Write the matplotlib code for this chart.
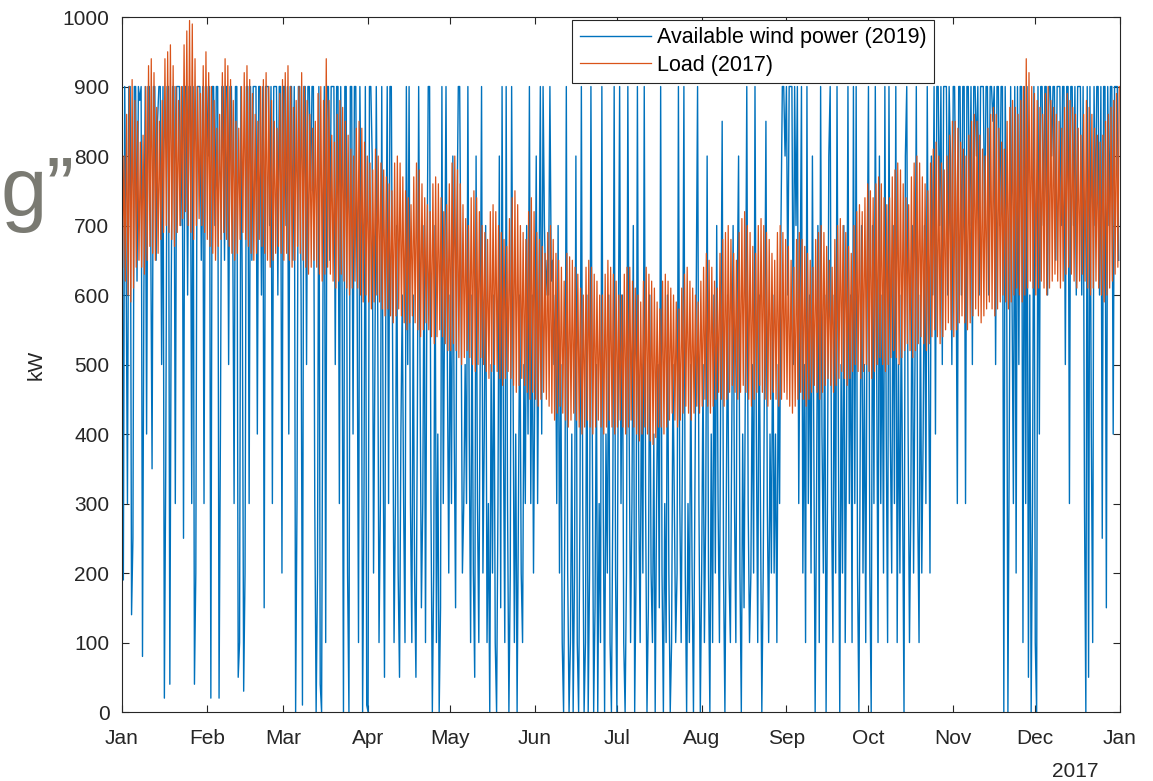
import matplotlib.pyplot as plt
import matplotlib as mpl
import matplotlib.dates as mdate
import numpy as np
import pandas as pd

mpl.rcParams['font.family'] = ['Liberation Sans', 'DejaVu Sans']
mpl.rcParams['font.size'] = 15

# daily peak load (kW), 2017, one row per month
load_peak = [
    800, 860, 900, 910, 880, 850, 820, 830, 900, 930, 940, 920, 870, 850, 880, 940, 950, 960, 930, 900, 880, 900, 960, 980, 995, 990, 940, 900, 890, 930, 950,
    920, 900, 880, 840, 860, 920, 940, 930, 910, 880, 850, 840, 900, 920, 930, 910, 890, 860, 850, 900, 910, 920, 900, 880, 850, 840, 890, 910,
    920, 930, 900, 870, 880, 900, 920, 900, 880, 860, 840, 850, 890, 900, 880, 940, 880, 830, 820, 860, 880, 870, 850, 830, 810, 800, 840, 850, 840, 820, 800,
    790, 780, 810, 800, 790, 780, 770, 760, 750, 790, 800, 790, 770, 750, 740, 730, 770, 790, 780, 760, 740, 730, 720, 760, 770, 760, 740, 720, 730, 760,
    790, 800, 780, 760, 730, 710, 700, 740, 750, 740, 720, 700, 690, 680, 720, 730, 720, 700, 690, 680, 670, 710, 740, 750, 730, 700, 690, 680, 720, 740, 720,
    690, 680, 670, 660, 690, 700, 680, 660, 650, 640, 620, 660, 655, 650, 640, 630, 610, 600, 640, 650, 640, 630, 620, 600, 600, 630, 650, 640, 630, 620,
    600, 600, 630, 640, 640, 620, 610, 600, 590, 620, 640, 630, 620, 610, 590, 580, 620, 630, 620, 610, 600, 590, 580, 610, 630, 640, 620, 610, 600, 590, 620,
    640, 660, 650, 640, 620, 610, 660, 680, 690, 700, 680, 660, 650, 690, 710, 720, 700, 690, 670, 660, 700, 710, 700, 690, 680, 660, 650, 690, 700, 690, 680,
    670, 650, 640, 680, 690, 680, 670, 660, 650, 640, 680, 690, 700, 690, 670, 650, 640, 680, 700, 710, 700, 690, 670, 660, 700, 720, 730, 720, 740, 760,
    750, 740, 760, 770, 760, 740, 730, 740, 770, 780, 790, 780, 760, 740, 730, 770, 790, 800, 790, 770, 760, 750, 790, 810, 820, 800, 790, 780, 800, 830, 850,
    850, 840, 820, 810, 800, 830, 850, 860, 850, 830, 810, 800, 840, 860, 870, 860, 840, 820, 810, 850, 870, 880, 870, 860, 880, 900, 940, 920, 900, 890,
    880, 870, 860, 890, 900, 880, 870, 860, 850, 840, 870, 890, 880, 870, 860, 840, 830, 860, 880, 870, 860, 840, 830, 820, 830, 850, 860, 870, 880, 890, 900,
]

# daily minimum load (kW)
load_base = [
    640, 620, 600, 590, 610, 640, 650, 640, 630, 650, 670, 660, 650, 660, 680, 690, 700, 690, 680, 670, 690, 700, 710, 720, 700, 690, 680, 700, 710, 700, 690,
    680, 670, 660, 650, 670, 680, 690, 680, 670, 660, 650, 660, 680, 690, 680, 670, 660, 650, 660, 680, 670, 660, 650, 640, 650, 660, 670, 660,
    650, 660, 650, 640, 650, 670, 660, 650, 640, 630, 640, 650, 640, 630, 620, 630, 640, 630, 620, 610, 620, 630, 620, 610, 600, 610, 620, 610, 600, 590, 600,
    590, 580, 590, 600, 590, 580, 570, 580, 570, 560, 570, 580, 570, 560, 550, 560, 570, 560, 550, 540, 550, 560, 550, 540, 530, 540, 550, 540, 530, 520,
    520, 530, 520, 510, 500, 510, 520, 510, 500, 490, 500, 510, 500, 490, 480, 490, 500, 490, 480, 470, 480, 490, 480, 470, 460, 470, 480, 470, 460, 450, 460,
    450, 440, 450, 460, 450, 440, 430, 420, 430, 440, 430, 420, 410, 420, 430, 420, 410, 400, 410, 420, 410, 400, 410, 420, 410, 400, 410, 420, 410, 400,
    410, 420, 410, 400, 410, 420, 410, 400, 390, 400, 410, 400, 390, 385, 395, 410, 410, 400, 410, 420, 430, 420, 410, 420, 430, 440, 430, 420, 430, 440, 430,
    440, 450, 440, 430, 440, 450, 460, 450, 440, 450, 460, 470, 460, 450, 460, 470, 460, 450, 440, 450, 460, 470, 460, 450, 440, 450, 460, 450, 440, 450, 460,
    450, 440, 430, 440, 450, 460, 450, 440, 450, 460, 470, 460, 450, 460, 470, 480, 470, 460, 470, 480, 490, 480, 470, 480, 490, 500, 490, 480, 490, 500,
    490, 480, 490, 500, 510, 500, 490, 500, 510, 520, 510, 500, 510, 520, 530, 520, 510, 520, 530, 540, 530, 520, 530, 540, 550, 540, 530, 540, 550, 560, 550,
    540, 550, 560, 570, 560, 550, 560, 570, 580, 570, 560, 570, 580, 590, 580, 570, 580, 590, 600, 590, 580, 590, 600, 610, 600, 590, 600, 610, 620, 610,
    600, 610, 620, 610, 600, 610, 620, 630, 620, 610, 620, 630, 640, 630, 620, 610, 620, 630, 620, 610, 600, 610, 620, 610, 600, 590, 600, 610, 620, 630, 640,
]

# available wind power (kW), two readings per day, one row per week from Jan 1
wind = [
    900, 190, 900, 650, 300, 900, 900, 140, 250, 900, 900, 620, 900, 880,
    900, 80, 600, 900, 400, 900, 900, 700, 350, 900, 900, 650, 850, 900,
    900, 500, 900, 20, 350, 900, 900, 40, 600, 900, 900, 300, 900, 900,
    900, 700, 900, 250, 900, 900, 600, 900, 900, 300, 900, 40, 200, 900,
    900, 900, 650, 900, 300, 900, 900, 800, 900, 20, 900, 900, 700, 900,
    900, 20, 400, 900, 900, 650, 900, 900, 500, 900, 900, 700, 300, 900,
    900, 50, 100, 900, 600, 30, 200, 900, 900, 300, 900, 650, 900, 900,
    900, 400, 900, 900, 600, 900, 150, 900, 900, 900, 700, 900, 300, 900,
    900, 900, 600, 900, 900, 200, 900, 900, 700, 900, 400, 900, 900, 650,
    900, 0, 300, 900, 900, 600, 10, 900, 900, 500, 900, 900, 750, 900,
    900, 300, 0, 200, 900, 40, 0, 600, 900, 100, 900, 900, 650, 900,
    900, 900, 500, 900, 900, 300, 900, 600, 0, 900, 900, 200, 0, 900,
    900, 400, 900, 900, 600, 100, 900, 700, 0, 300, 900, 10, 0, 900,
    900, 800, 200, 500, 900, 600, 100, 300, 900, 400, 50, 600, 900, 300,
    900, 900, 500, 100, 300, 700, 200, 50, 400, 600, 300, 100, 900, 500,
    900, 300, 100, 600, 200, 50, 400, 900, 500, 150, 300, 700, 100, 600,
    900, 900, 300, 0, 200, 700, 100, 400, 0, 150, 900, 300, 600, 900,
    500, 200, 600, 300, 800, 400, 150, 700, 900, 900, 600, 200, 300, 500,
    300, 900, 400, 100, 600, 200, 50, 800, 300, 100, 500, 900, 200, 400,
    700, 100, 300, 0, 500, 200, 600, 100, 0, 300, 800, 150, 900, 400,
    100, 900, 300, 0, 200, 900, 500, 100, 400, 0, 300, 600, 200, 100,
    500, 300, 700, 400, 900, 300, 600, 200, 500, 800, 300, 600, 900, 400,
    900, 700, 600, 650, 600, 900, 620, 650, 500, 600, 300, 700, 200, 500,
    100, 0, 300, 900, 200, 0, 100, 400, 0, 200, 800, 100, 0, 300,
    900, 300, 0, 100, 600, 0, 200, 900, 400, 0, 150, 500, 0, 300,
    100, 900, 300, 0, 400, 200, 600, 100, 0, 300, 900, 200, 0, 500,
    900, 300, 600, 100, 0, 200, 900, 400, 100, 300, 700, 0, 200, 900,
    300, 100, 500, 200, 900, 300, 0, 150, 600, 200, 100, 400, 0, 300,
    500, 150, 900, 200, 0, 300, 100, 600, 200, 0, 100, 500, 300, 100,
    200, 900, 300, 100, 400, 900, 200, 0, 300, 100, 500, 200, 0, 300,
    600, 900, 300, 0, 200, 500, 100, 300, 800, 200, 0, 400, 100, 600,
    200, 700, 300, 100, 500, 850, 200, 0, 300, 600, 200, 100, 400, 700,
    300, 100, 600, 800, 200, 0, 400, 150, 500, 900, 300, 100, 200, 500,
    200, 900, 400, 100, 600, 300, 0, 200, 500, 850, 300, 100, 400, 200,
    600, 200, 400, 100, 500, 300, 700, 900, 900, 800, 900, 600, 900, 900,
    900, 500, 900, 700, 900, 300, 600, 900, 200, 500, 100, 900, 300, 600,
    200, 800, 400, 0, 300, 700, 100, 900, 400, 200, 600, 0, 300, 800,
    900, 300, 100, 600, 200, 900, 400, 0, 500, 200, 700, 100, 400, 900,
    300, 600, 100, 900, 300, 900, 200, 0, 400, 700, 200, 500, 100, 600,
    900, 200, 0, 700, 300, 900, 500, 100, 800, 300, 600, 200, 900, 400,
    100, 900, 400, 200, 700, 300, 900, 100, 500, 200, 600, 300, 0, 800,
    900, 400, 100, 300, 700, 200, 500, 900, 300, 100, 600, 200, 400, 700,
    300, 900, 500, 200, 800, 600, 900, 400, 900, 900, 700, 900, 500, 900,
    900, 900, 600, 900, 800, 500, 900, 900, 700, 300, 900, 900, 600, 900,
    900, 300, 900, 900, 700, 900, 500, 900, 900, 800, 900, 600, 900, 900,
    900, 700, 900, 900, 600, 900, 900, 850, 900, 500, 900, 900, 700, 900,
    900, 0, 900, 700, 0, 400, 900, 600, 300, 900, 200, 900, 500, 900,
    900, 100, 900, 300, 900, 50, 600, 0, 300, 900, 100, 0, 900, 400,
    900, 900, 700, 900, 900, 600, 900, 900, 800, 900, 900, 650, 900, 900,
    900, 700, 900, 900, 500, 900, 900, 300, 900, 900, 700, 900, 600, 900,
    900, 900, 600, 900, 300, 0, 900, 50, 900, 400, 100, 900, 700, 900,
    900, 600, 900, 250, 900, 900, 150, 900, 700, 900, 900, 400, 900, 900,
    900, 650,
]

t0 = pd.Timestamp('2017-01-01')
t1 = pd.Timestamp('2018-01-01')

# load: minimum early morning, peak late afternoon each day
load_t = []
load_v = []
for d in range(len(load_peak)):
    load_t += [t0 + pd.Timedelta(hours=24 * d + 5), t0 + pd.Timedelta(hours=24 * d + 17)]
    load_v += [load_base[d], load_peak[d]]

wind_t = [t0 + pd.Timedelta(hours=12 * i) for i in range(len(wind))]

fig = plt.figure(figsize=(11.53, 7.81), dpi=100)
ax = fig.add_axes([0.1058, 0.0883, 0.8656, 0.8899])

ax.plot(wind_t, wind, color='#0072BD', lw=1.0, label='Available wind power (2019)')
ax.plot(load_t, load_v, color='#D95319', lw=0.9, label='Load (2017)')

ax.set_xlim(t0, t1)
ax.set_ylim(0, 1000)
ax.set_yticks(np.arange(0, 1001, 100))
ax.xaxis.set_major_locator(mdate.MonthLocator())
ax.xaxis.set_major_formatter(mdate.DateFormatter('%b'))
ax.tick_params(direction='in', top=True, right=True, length=5, width=0.8,
               colors='#262626', labelsize=15)
ax.tick_params(axis='x', pad=12)
ax.tick_params(axis='y', pad=9)
for s in ax.spines.values():
    s.set_color('#262626')
    s.set_linewidth(0.8)

ax.set_ylabel('kW', fontsize=15, color='#262626')
ax.yaxis.set_label_coords(-0.077, 0.5)
ax.text(0.978, -0.072, '2017', transform=ax.transAxes, ha='right', va='top',
        fontsize=15, color='#262626')

leg = ax.legend(loc='upper left', bbox_to_anchor=(0.451, 0.996), fontsize=15.5,
                handlelength=3.3, handletextpad=0.3, frameon=True, fancybox=False,
                framealpha=1, edgecolor='#262626', borderpad=0.35,
                labelspacing=0.3, borderaxespad=0)
leg.get_frame().set_linewidth(0.8)

# leftover text from the slide behind the chart
fig.text(0.0, 0.7234, 'g\u201d', fontsize=60, color='#7a7a72', ha='left', va='baseline')

fig.savefig('out.png', dpi=100)
